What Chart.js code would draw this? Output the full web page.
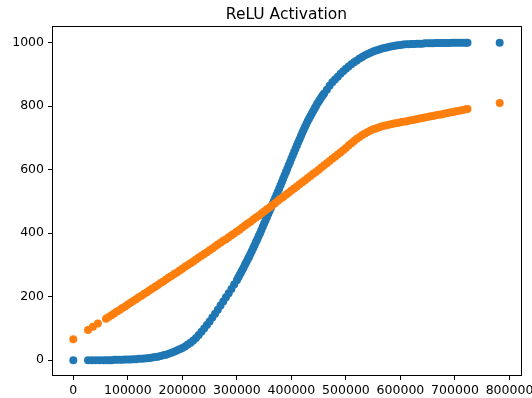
<!DOCTYPE html>
<html><head><meta charset="utf-8">
<script src="https://cdn.jsdelivr.net/npm/chart.js@4"></script>
<style>html,body{margin:0;padding:0;background:#fff}canvas{display:block}</style>
</head><body>
<canvas id="c" width="532" height="398"></canvas>
<script>
const titleText = 'ReLU Activation';
const xTicks = [0, 100000, 200000, 300000, 400000, 500000, 600000, 700000, 800000];
const yTicks = [0, 200, 400, 600, 800, 1000];

const blueX = [0, 27000, 34000, 41000, 48000,
 55000, 60000, 65000, 70000, 75000, 80000, 85000, 90000, 95000, 100000,
 105000, 110000, 115000, 120000, 125000, 130000, 135000, 140000, 145000, 150000,
 155000, 160000, 165000, 170000, 175000, 180000, 185000, 190000, 195000, 200000,
 205000, 210000, 215000, 220000, 225000, 230000, 235000, 240000, 245000, 250000,
 255000, 260000, 265000, 270000, 275000, 280000, 285000, 290000, 295000, 300000,
 302500, 305000, 307500, 310000, 312500, 315000, 317500, 320000, 322500, 325000,
 327500, 330000, 332500, 335000, 337500, 340000, 342500, 345000, 347500, 350000,
 352500, 355000, 357500, 360000, 362500, 365000, 367500, 370000, 372500, 375000,
 377500, 380000, 382500, 385000, 387500, 390000, 392500, 395000, 397500, 400000,
 402500, 405000, 407500, 410000, 412500, 415000, 417500, 420000, 422500, 425000,
 427500, 430000, 432500, 435000, 437500, 440000, 442500, 445000, 447500, 450000,
 452500, 455000, 457500, 460000, 465000, 470000, 475000, 480000, 485000, 490000,
 495000, 500000, 505000, 510000, 515000, 520000, 525000, 530000, 535000, 540000,
 545000, 550000, 555000, 560000, 565000, 570000, 575000, 580000, 585000, 590000,
 595000, 600000, 605000, 610000, 615000, 620000, 625000, 630000, 635000, 640000,
 645000, 650000, 655000, 660000, 665000, 670000, 675000, 680000, 685000, 690000,
 695000, 700000, 705000, 710000, 715000, 720000, 723000, 782000];
const blueY = [0, 0, 0, 0, 0,
 0, 0, 0, 0, 1, 1, 1, 1, 2, 2,
 2, 3, 3, 4, 4, 5, 6, 7, 8, 10,
 11, 13, 15, 17, 20, 23, 26, 30, 34, 38,
 43, 49, 55, 62, 70, 79, 89, 100, 111, 122,
 134, 146, 159, 172, 185, 198, 211, 224, 238, 252,
 260, 268, 276, 284, 292, 301, 309, 318, 326, 335,
 344, 353, 362, 372, 381, 391, 400, 410, 420, 430,
 440, 450, 460, 470, 480, 490, 500, 510, 520, 530,
 540, 551, 561, 572, 582, 593, 603, 614, 624, 635,
 645, 656, 666, 676, 686, 696, 706, 716, 726, 735,
 744, 753, 761, 769, 777, 785, 793, 800, 808, 815,
 821, 828, 834, 840, 852, 864, 875, 884, 893, 902,
 910, 918, 925, 932, 938, 944, 950, 955, 960, 964,
 968, 972, 975, 978, 981, 983, 985, 987, 989, 990,
 992, 993, 994, 995, 995, 996, 996, 997, 997, 997,
 998, 998, 998, 998, 999, 999, 999, 999, 999, 999,
 1000, 1000, 1000, 1000, 1000, 1000, 1000, 1000];

const orangeX = [0, 27000, 36000, 45000,
 60000, 65000, 70000, 75000, 80000, 85000, 90000, 95000, 100000, 105000,
 110000, 115000, 120000, 125000, 130000, 135000, 140000, 145000, 150000, 155000,
 160000, 165000, 170000, 175000, 180000, 185000, 190000, 195000, 200000, 205000,
 210000, 215000, 220000, 225000, 230000, 235000, 240000, 245000, 250000, 255000,
 260000, 265000, 270000, 275000, 280000, 285000, 290000, 295000, 300000, 305000,
 310000, 315000, 320000, 325000, 330000, 335000, 340000, 345000, 350000, 355000,
 360000, 365000, 370000, 375000, 380000, 385000, 390000, 395000, 400000, 405000,
 410000, 415000, 420000, 425000, 430000, 435000, 440000, 445000, 450000, 455000,
 460000, 465000, 470000, 475000, 480000, 485000, 490000, 495000, 500000, 505000,
 510000, 515000, 520000, 525000, 530000, 535000, 540000, 545000, 550000, 555000,
 560000, 565000, 570000, 575000, 580000, 585000, 590000, 595000, 600000, 605000,
 610000, 615000, 620000, 625000, 630000, 635000, 640000, 645000, 650000, 655000,
 660000, 665000, 670000, 675000, 680000, 685000, 690000, 695000, 700000, 705000,
 710000, 715000, 720000, 723000, 782000];
const orangeY = [66, 95, 105, 115,
 130, 136, 141, 147, 153, 158, 164, 169, 175, 181,
 186, 192, 198, 203, 209, 214, 220, 226, 231, 237,
 243, 248, 254, 260, 265, 271, 276, 282, 288, 294,
 300, 305, 311, 317, 323, 329, 334, 340, 346, 352,
 358, 364, 370, 376, 381, 387, 393, 399, 405, 411,
 418, 424, 430, 436, 443, 449, 455, 462, 468, 475,
 481, 488, 494, 501, 508, 514, 521, 527, 534, 541,
 547, 554, 560, 567, 574, 580, 587, 593, 600, 607,
 614, 620, 627, 634, 641, 648, 654, 661, 668, 676,
 683, 690, 697, 703, 709, 714, 719, 723, 727, 730,
 733, 736, 738, 740, 742, 744, 746, 747, 749, 751,
 752, 754, 756, 757, 759, 761, 763, 764, 766, 768,
 769, 771, 773, 774, 776, 778, 780, 781, 783, 785,
 786, 788, 790, 791, 810];

const toPts = (xs, ys) => xs.map((x, i) => ({x: x, y: ys[i]}));
const FONT = 'DejaVu Sans';

const frame = {
  id: 'frame',
  afterDraw(chart) {
    const a = chart.chartArea, ctx = chart.ctx;
    const x0 = Math.floor(a.left) + 0.5, x1 = Math.floor(a.right) + 0.5;
    const y0 = Math.floor(a.top) + 0.5, y1 = Math.floor(a.bottom) - 0.5;
    ctx.save();
    ctx.strokeStyle = '#000';
    ctx.lineWidth = 1;
    ctx.strokeRect(x0, y0, x1 - x0, y1 - y0);
    ctx.restore();
  }
};

new Chart(document.getElementById('c').getContext('2d'), {
  type: 'scatter',
  data: {
    datasets: [
      {label: 'blue', data: toPts(blueX, blueY), backgroundColor: '#1f77b4', borderWidth: 0,
       pointRadius: 4, pointHoverRadius: 4, order: 2},
      {label: 'orange', data: toPts(orangeX, orangeY), backgroundColor: '#ff7f0e', borderWidth: 0,
       pointRadius: 4, pointHoverRadius: 4, order: 1}
    ]
  },
  options: {
    responsive: false,
    animation: false,
    events: [],
    layout: {padding: {left: 0, right: 11, top: 0, bottom: 0}},
    plugins: {
      legend: {display: false},
      tooltip: {enabled: false},
      title: {display: true, text: titleText, fullSize: false, color: '#000',
        font: {family: FONT, size: 15.5, weight: 'normal', lineHeight: 1.2},
        padding: {top: 6, bottom: 2.2}}
    },
    scales: {
      x: {
        type: 'linear', min: -39100, max: 821100,
        afterBuildTicks(s) { s.ticks = xTicks.map(v => ({value: v})); },
        afterFit(s) { s.height = 22; s.paddingLeft = 0; s.paddingRight = 0; },
        grid: {drawOnChartArea: false, drawTicks: true, tickLength: 4, tickColor: '#000', tickWidth: 1},
        border: {display: false},
        ticks: {color: '#000', font: {family: FONT, size: 12.5}, padding: 3, maxRotation: 0,
          autoSkip: false, callback: v => String(v)}
      },
      y: {
        type: 'linear', min: -50, max: 1050,
        afterBuildTicks(s) { s.ticks = yTicks.map(v => ({value: v})); },
        afterFit(s) { s.width = 52; s.paddingTop = 0; s.paddingBottom = 0; },
        grid: {drawOnChartArea: false, drawTicks: true, tickLength: 4, tickColor: '#000', tickWidth: 1},
        border: {display: false},
        ticks: {color: '#000', font: {family: FONT, size: 12.5}, padding: 4,
          autoSkip: false, callback: v => String(v)}
      }
    }
  },
  plugins: [frame]
});
</script>
</body></html>
